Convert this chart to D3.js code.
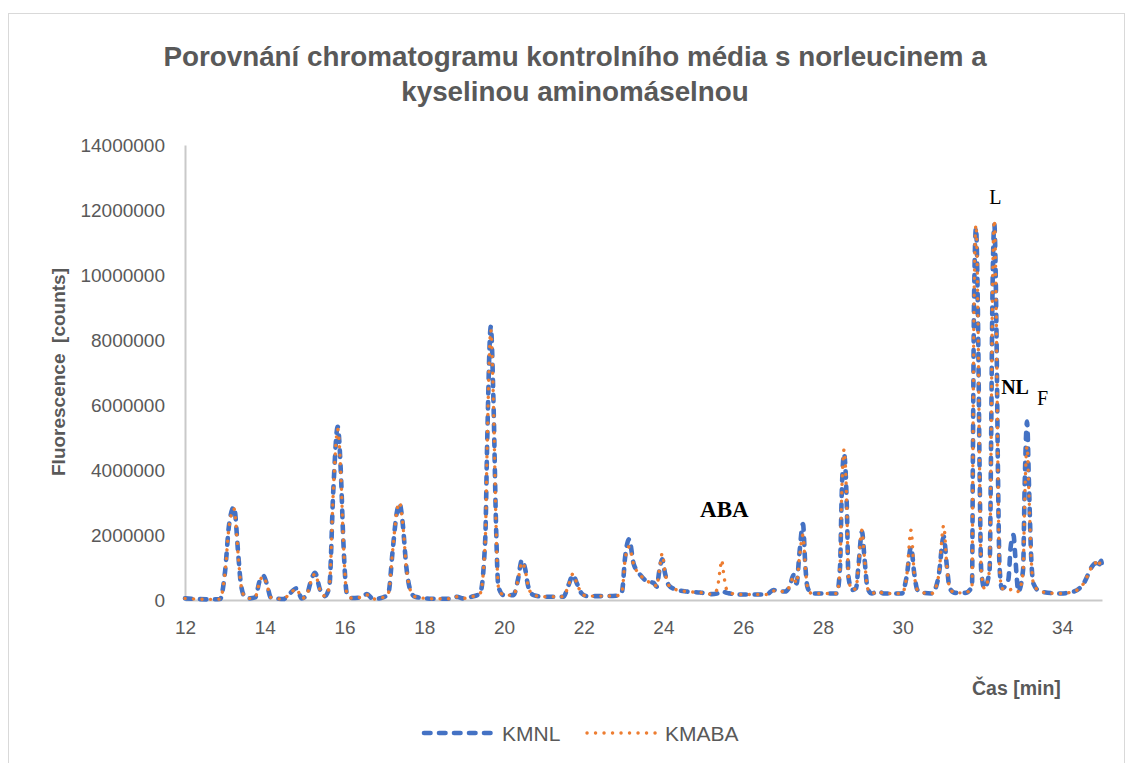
<!DOCTYPE html>
<html>
<head>
<meta charset="utf-8">
<script src="https://cdn.jsdelivr.net/npm/d3@7"></script>
<style>
    body { margin: 0; background: #fff; }
    svg { display: block; }
</style>
</head>
<body>
<svg id="chart" width="1132" height="763"></svg>
<script>
// retention time [min]
const times = [
    12.00, 12.30, 12.60, 12.88, 13.00, 13.11, 13.23, 13.34, 13.40, 13.50, 13.63, 13.76, 13.88, 13.97, 14.07, 14.15,
    14.47, 14.59, 14.80, 14.93, 15.05, 15.18, 15.26, 15.39, 15.51, 15.62, 15.72, 15.83, 15.91, 15.97, 16.06, 16.18,
    16.40, 16.56, 16.72, 16.97, 17.10, 17.21, 17.31, 17.38, 17.46, 17.55, 17.65, 17.77, 18.20, 18.73, 18.82, 18.98,
    19.19, 19.40, 19.53, 19.58, 19.67, 19.74, 19.80, 19.86, 19.99, 20.24, 20.35, 20.45, 20.53, 20.61, 20.74, 21.00,
    21.49, 21.62, 21.73, 21.83, 21.95, 22.08, 22.50, 22.83, 22.96, 23.04, 23.14, 23.25, 23.42, 23.62, 23.75, 23.83,
    23.90, 23.97, 24.04, 24.13, 24.29, 24.59, 24.92, 25.21, 25.34, 25.42, 25.46, 25.52, 25.59, 25.67, 25.84, 26.20,
    26.59, 26.76, 26.89, 27.05, 27.18, 27.26, 27.34, 27.41, 27.50, 27.56, 27.61, 27.72, 28.35, 28.43, 28.47, 28.53,
    28.60, 28.64, 28.73, 28.83, 28.89, 28.98, 29.04, 29.12, 29.23, 29.39, 29.52, 29.98, 30.10, 30.21, 30.29, 30.37,
    30.52, 30.73, 30.90, 31.03, 31.11, 31.18, 31.32, 31.57, 31.74, 31.76, 31.79, 31.84, 31.89, 31.93, 31.97, 32.05,
    32.18, 32.22, 32.25, 32.30, 32.35, 32.39, 32.43, 32.49, 32.65, 32.71, 32.78, 32.82, 32.86, 32.90, 33.02, 33.06,
    33.12, 33.17, 33.22, 33.28, 33.45, 33.95, 34.29, 34.54, 34.75, 34.83, 34.89, 34.98, 35.00
]

// fluorescence [millions of counts]
const kmnl = [
    0.05, 0.03, 0.02, 0.03, 0.82, 2.36, 2.86, 1.33, 0.51, 0.10, 0.05, 0.08, 0.62, 0.74, 0.41, 0.08,
    0.03, 0.15, 0.36, 0.05, 0.15, 0.67, 0.84, 0.31, 0.12, 0.41, 3.38, 5.33, 3.90, 1.85, 0.20, 0.06,
    0.08, 0.18, 0.03, 0.08, 0.20, 1.54, 2.67, 2.97, 2.36, 1.03, 0.31, 0.10, 0.04, 0.04, 0.10, 0.05,
    0.10, 0.20, 1.85, 4.90, 8.41, 5.95, 2.36, 0.41, 0.15, 0.15, 0.62, 1.23, 0.97, 0.41, 0.15, 0.10,
    0.10, 0.46, 0.77, 0.51, 0.20, 0.12, 0.12, 0.13, 0.26, 1.33, 1.87, 1.13, 0.77, 0.56, 0.53, 0.41,
    0.92, 1.25, 0.82, 0.46, 0.33, 0.26, 0.23, 0.18, 0.20, 0.25, 0.28, 0.25, 0.22, 0.20, 0.17, 0.17,
    0.17, 0.31, 0.26, 0.26, 0.46, 0.77, 0.51, 1.43, 2.34, 1.03, 0.41, 0.20, 0.20, 1.03, 3.18, 4.50,
    2.87, 0.72, 0.31, 0.36, 1.03, 2.10, 1.33, 0.36, 0.20, 0.28, 0.20, 0.20, 0.72, 1.63, 0.82, 0.31,
    0.22, 0.20, 0.72, 1.95, 1.03, 0.36, 0.22, 0.22, 0.41, 4.00, 9.13, 11.45, 8.60, 4.00, 0.92, 0.36,
    0.92, 5.03, 9.13, 11.55, 8.60, 4.00, 1.03, 0.36, 0.62, 1.64, 2.00, 1.43, 0.72, 0.26, 0.92, 3.49,
    5.49, 3.49, 1.43, 0.51, 0.26, 0.20, 0.26, 0.51, 1.03, 1.13, 1.00, 1.21, 1.05
]

const kmaba = [
    0.05, 0.03, 0.02, 0.03, 0.80, 2.30, 2.80, 1.30, 0.50, 0.10, 0.05, 0.08, 0.60, 0.72, 0.40, 0.08,
    0.03, 0.15, 0.34, 0.05, 0.15, 0.65, 0.80, 0.30, 0.12, 0.41, 3.35, 5.25, 3.85, 1.85, 0.20, 0.06,
    0.08, 0.16, 0.03, 0.08, 0.20, 1.54, 2.70, 3.00, 2.40, 1.03, 0.31, 0.10, 0.04, 0.04, 0.10, 0.05,
    0.10, 0.20, 1.80, 4.80, 8.30, 5.90, 2.36, 0.41, 0.15, 0.15, 0.60, 1.15, 0.95, 0.41, 0.15, 0.10,
    0.10, 0.46, 0.80, 0.51, 0.20, 0.12, 0.12, 0.13, 0.26, 1.25, 1.64, 1.10, 0.77, 0.56, 0.53, 0.41,
    0.95, 1.43, 0.85, 0.46, 0.33, 0.26, 0.23, 0.18, 0.31, 0.92, 1.23, 0.72, 0.31, 0.23, 0.17, 0.17,
    0.17, 0.28, 0.26, 0.26, 0.46, 0.72, 0.51, 1.30, 2.00, 1.00, 0.41, 0.20, 0.20, 1.03, 3.20, 4.62,
    2.87, 0.72, 0.31, 0.36, 1.03, 2.15, 1.33, 0.36, 0.20, 0.28, 0.20, 0.20, 0.72, 2.15, 0.82, 0.31,
    0.22, 0.20, 0.72, 2.29, 1.03, 0.36, 0.22, 0.22, 0.41, 4.00, 9.13, 11.54, 8.60, 4.00, 0.92, 0.36,
    0.92, 5.03, 9.13, 11.69, 8.60, 4.00, 1.03, 0.36, 0.30, 0.32, 0.35, 0.33, 0.30, 0.26, 0.85, 3.00,
    4.72, 3.20, 1.40, 0.51, 0.26, 0.20, 0.26, 0.51, 1.03, 1.15, 1.02, 1.21, 1.08
]

const seriesNames = ["KMNL", "KMABA"]
const xTicks = [12, 14, 16, 18, 20, 22, 24, 26, 28, 30, 32, 34]
const yTicks = [0, 2000000, 4000000, 6000000, 8000000, 10000000, 12000000, 14000000]

// peak labels: [text, time, value in millions, bold]
const peakLabels = [
    ["ABA", 24.92, 2.55, true],
    ["L", 32.17, 12.18, false],
    ["NL", 32.47, 6.34, true],
    ["F", 33.37, 6.0, false]
]

const PLOT_LEFT = 185
const PLOT_RIGHT = 1102
const PLOT_TOP = 145
const PLOT_BOTTOM = 600

const SANS = '"Liberation Sans", Arial, sans-serif'
const SERIF = '"Liberation Serif", "Times New Roman", serif'
const TEXT_GRAY = '#595959'
const BLUE = '#4472C4'
const ORANGE = '#ED7D31'

const svg = d3.select('#chart')

const xScale = d3.scaleLinear().domain([12, 35]).range([PLOT_LEFT, PLOT_RIGHT])
const yScale = d3.scaleLinear().domain([0, 14000000]).range([PLOT_BOTTOM, PLOT_TOP])

const lineStyles = {
    KMNL: {color: BLUE, width: 4.6, dash: '6.5,8.5'},
    KMABA: {color: ORANGE, width: 3.4, dash: '0.1,8.4'}
}

drawFrame()
drawTitle()
drawAxis()
drawLines()
drawPeakLabels()
drawLegend()

function drawFrame() {
    svg.append('rect')
        .attr('x', 8.5)
        .attr('y', 13.5)
        .attr('width', 1116)
        .attr('height', 780)
        .style('fill', '#fff')
        .style('stroke', '#D9D9D9')
        .style('stroke-width', 1)
}

function drawTitle() {
    const title = svg.append('text')
        .attr('text-anchor', 'middle')
        .style('font-family', SANS)
        .style('font-weight', 'bold')
        .style('font-size', '27.8px')
        .style('fill', TEXT_GRAY)
    title.append('tspan').attr('x', 575).attr('y', 66)
        .text('Porovnání chromatogramu kontrolního média s norleucinem a')
    title.append('tspan').attr('x', 575).attr('y', 101)
        .text('kyselinou aminomáselnou')
}

function drawAxis() {
    // Y axis
    const yAxis = svg.append('g')
        .attr('transform', `translate(${PLOT_LEFT}, 0)`)
        .call(d3.axisLeft(yScale).tickValues(yTicks).tickSize(0).tickPadding(20).tickFormat(d3.format('d')))
    yAxis.select('.domain').style('stroke', '#C9C9C9').style('stroke-width', 2)
    yAxis.selectAll('text')
        .style('font-family', SANS)
        .style('font-size', '19px')
        .style('fill', TEXT_GRAY)

    // X axis
    const xAxis = svg.append('g')
        .attr('transform', `translate(0, ${PLOT_BOTTOM})`)
        .call(d3.axisBottom(xScale).tickValues(xTicks).tickSize(0).tickPadding(21).tickFormat(d3.format('d')))
    xAxis.select('.domain').style('stroke', '#C9C9C9').style('stroke-width', 2)
    xAxis.selectAll('text')
        .style('font-family', SANS)
        .style('font-size', '19px')
        .style('fill', TEXT_GRAY)

    // Y label
    svg.append('text')
        .attr('transform', 'translate(58, 372) rotate(-90)')
        .attr('dy', '0.35em')
        .attr('text-anchor', 'middle')
        .style('font-family', SANS)
        .style('font-weight', 'bold')
        .style('font-size', '19px')
        .style('fill', TEXT_GRAY)
        .style('white-space', 'pre')
        .text('Fluorescence  [counts]')

    // X label
    svg.append('text')
        .attr('x', 972)
        .attr('y', 695)
        .style('font-family', SANS)
        .style('font-weight', 'bold')
        .style('font-size', '19.5px')
        .style('fill', TEXT_GRAY)
        .text('Čas [min]')
}

function drawLines() {
    const line = d3.line()
        .x(d => xScale(d[0]))
        .y(d => yScale(d[1] * 1e6))
        .curve(d3.curveMonotoneX)

    const series = {
        KMNL: times.map((t, i) => [t, kmnl[i]]),
        KMABA: times.map((t, i) => [t, kmaba[i]])
    }

    seriesNames.forEach(function (name) {
        const s = lineStyles[name]
        svg.append('path')
            .datum(series[name])
            .attr('class', 'line')
            .attr('d', line)
            .style('fill', 'none')
            .style('stroke', s.color)
            .style('stroke-width', s.width)
            .style('stroke-dasharray', s.dash)
            .style('stroke-linecap', 'round')
            .style('stroke-linejoin', 'round')
    })
}

function drawPeakLabels() {
    peakLabels.forEach(function (d) {
        svg.append('text')
            .attr('x', xScale(d[1]))
            .attr('y', yScale(d[2] * 1e6))
            .style('font-family', SERIF)
            .style('font-weight', d[3] ? 'bold' : 'normal')
            .style('font-size', d[0] === 'ABA' ? '23px' : '20px')
            .style('fill', '#000')
            .text(d[0])
    })
}

function drawLegend() {
    const legend = svg.selectAll('.legend')
        .data(seriesNames)
        .enter()
        .append('g')
        .attr('class', 'legend')
        .attr('transform', (d, i) => `translate(${424 + i * 163}, 733)`)

    legend.append('line')
        .attr('x1', 0)
        .attr('x2', 70)
        .style('stroke', d => lineStyles[d].color)
        .style('stroke-width', d => lineStyles[d].width)
        .style('stroke-dasharray', d => lineStyles[d].dash)
        .style('stroke-linecap', 'round')

    legend.append('text')
        .attr('x', 78)
        .attr('y', 8)
        .style('font-family', SANS)
        .style('font-size', '21px')
        .style('fill', TEXT_GRAY)
        .text(d => d)
}
</script>
</body>
</html>
